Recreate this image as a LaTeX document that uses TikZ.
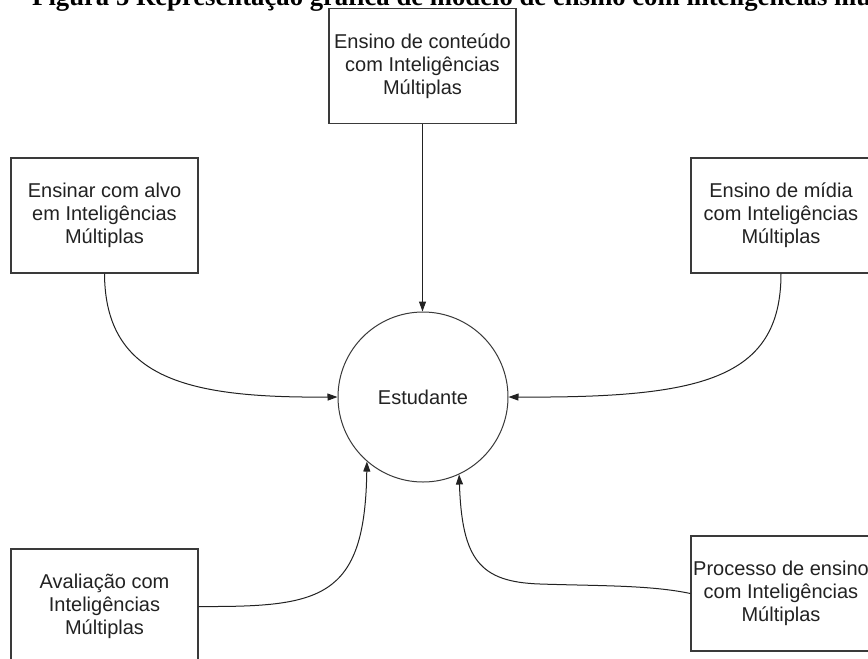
\documentclass[tikz,border=0pt]{standalone}
\usepackage{fontspec}
\setmainfont{Liberation Serif}
\setsansfont{Liberation Sans}
\usetikzlibrary{arrows.meta}
\definecolor{ink}{HTML}{222222}
\definecolor{edge}{HTML}{3A3A3A}
\begin{document}
\begin{tikzpicture}[x=1pt,y=-1pt,
  box/.style={draw=edge, line width=1.1pt, rectangle, inner sep=0pt,
    minimum height=115pt, align=center, text=ink,
    font=\sffamily\fontsize{20}{23}\selectfont},
  stud/.style={draw=edge, line width=1pt, circle, inner sep=0pt,
    minimum size=170pt, text=ink, font=\sffamily\fontsize{20}{23}\selectfont},
  conn/.style={draw=ink, line width=1pt, -{Triangle[length=10pt,width=7pt]}}]
\useasboundingbox (0,0) rectangle (868,659);
\clip (0,0) rectangle (868,659);
\fill[white] (0,0) rectangle (868,659);
\node[anchor=base west, inner sep=0pt, font=\bfseries\fontsize{26.7}{30}\selectfont]
  (title) at (32,5.5) {Figura 5 Representação gráfica de modelo de ensino com inteligências múltiplas};
\node[box, minimum width=187pt] (top) at (422.5,66) {Ensino de conteúdo\\com Inteligências\\Múltiplas};
\node[box, minimum width=187pt] (lb) at (104.5,215.5) {Ensinar com alvo\\em Inteligências\\Múltiplas};
\node[box, minimum width=180pt] (rb) at (781,215.5) {Ensino de mídia\\com Inteligências\\Múltiplas};
\node[box, minimum width=187pt] (bl) at (104.5,606.5) {Avaliação com\\Inteligências\\Múltiplas};
\node[box, minimum width=180pt] (br) at (781,593.5) {Processo de ensino\\com Inteligências\\Múltiplas};
\node[stud] (st) at (423,397) {Estudante};
\draw[conn] (top.south) -- (top.south |- st.north);
\draw[conn] (lb.south) .. controls (105,380) and (190,398) .. (st.west);
\draw[conn] (rb.south) .. controls (781,380) and (700,398) .. (st.east);
\draw[conn] (bl.east) .. controls (320,607) and (365,600) .. (st.-131);
\draw[conn] (br.west) .. controls (650,585) and (600,586) .. (540,584)
  .. controls (480,582) and (462,560) .. (st.-65);
\end{tikzpicture}
\end{document}
